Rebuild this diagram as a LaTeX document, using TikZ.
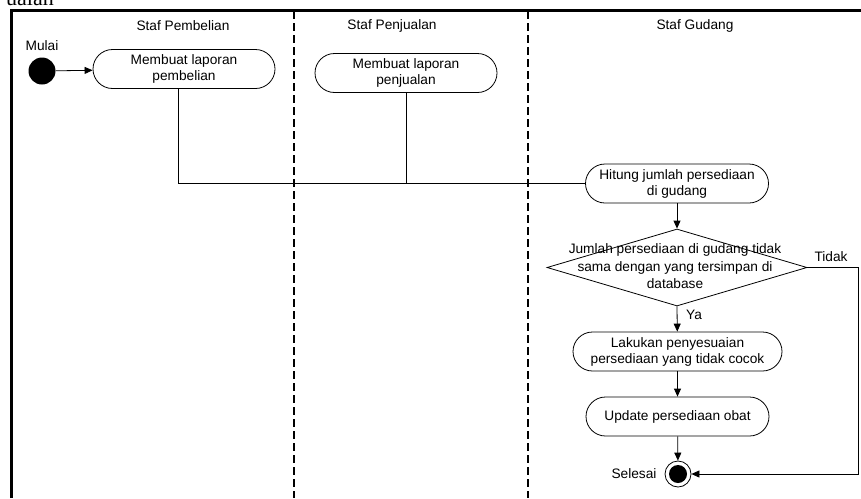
\documentclass[tikz,border=0pt]{standalone}
\usepackage{fontspec}
\setmainfont{Liberation Sans}
\newfontfamily\serifx{Liberation Serif}
\usetikzlibrary{arrows.meta,shapes.geometric}
\tikzset{
  act/.style={draw,line width=0.8pt,rounded corners=19.5pt,minimum height=39pt,inner sep=0pt,align=center,font=\fontsize{13.7}{16}\selectfont},
  lbl/.style={font=\fontsize{13.7}{16}\selectfont,inner sep=0pt},
  conn/.style={line width=0.8pt},
  arr/.style={line width=0.8pt,-{Triangle[length=8pt,width=7pt]}},
  lane/.style={line width=2pt,dash pattern=on 8pt off 4pt},
  frame/.style={line width=3pt}
}
\begin{document}
\begin{tikzpicture}[x=1pt,y=-1pt]
\useasboundingbox (0,0) rectangle (861,498);
% cut-off text above
\node[font=\serifx\fontsize{22}{22}\selectfont,anchor=base east,inner sep=0pt] (frag) at (54,5) {uaian};
% frame
\draw[frame] (11,498) -- (11,10) -- (861,10);
\draw[lane] (294,11) -- (294,498);
\draw[lane] (528,11) -- (528,498);
% lane titles
\node[lbl] (t1) at (183,26) {Staf Pembelian};
\node[lbl] (t2) at (392,26) {Staf Penjualan};
\node[lbl] (t3) at (695,26) {Staf Gudang};
% start
\node[circle,fill,minimum size=27pt,inner sep=0pt] (start) at (42,71) {};
\node[lbl] (mulai) at (42,46) {Mulai};
% actions
\node[act,minimum width=182pt] (a1) at (184,69) {Membuat laporan\\pembelian};
\node[act,minimum width=182pt] (a2) at (406,73) {Membuat laporan\\penjualan};
\node[act,minimum width=183pt] (hit) at (677,183.5) {Hitung jumlah persediaan\\di gudang};
\node[diamond,draw,line width=0.8pt,minimum width=260pt,minimum height=77pt,inner sep=0pt] (dia) at (677,267.5) {};
\node[lbl,align=center,font=\fontsize{13.7}{17.5}\selectfont] (diat) at (675,266.5) {Jumlah persediaan di gudang tidak\\sama dengan yang tersimpan di\\database};
\node[act,minimum width=209pt] (lak) at (677.5,351.5) {Lakukan penyesuaian\\persediaan yang tidak cocok};
\node[act,minimum width=183pt] (upd) at (677.5,416.5) {Update persediaan obat};
\node[circle,draw,line width=0.8pt,minimum size=26pt,inner sep=0pt] (end) at (678,474) {};
\fill (end.center) circle (9pt);
\node[lbl] (sel) at (634,474) {Selesai};
\node[lbl] (tidak) at (831,257) {Tidak};
\node[lbl] (ya) at (694,315) {Ya};
% connectors
\coordinate (j1) at (178,183.5);
\coordinate (j2) at (406,183.5);
\coordinate (rt) at (858,267.5);
\draw[arr] (start) -- (a1);
\draw[conn] (a1.south -| j1) -- (j1) -- (hit.west);
\draw[conn] (a2.south) -- (j2);
\draw[arr] (hit) -- (dia.north);
\draw[arr] (dia.south) -- (lak);
\draw[arr] (lak) -- (upd);
\draw[arr] (upd) -- (end);
\draw[arr] (dia.east) -- (rt) |- (end.east);
\end{tikzpicture}
\end{document}
